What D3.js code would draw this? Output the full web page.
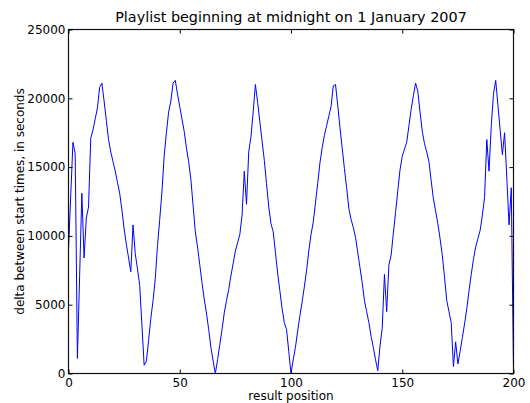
<!DOCTYPE html>
<html>
<head>
<meta charset="utf-8">
<script src="https://cdn.jsdelivr.net/npm/d3@7"></script>
<style>
  html, body { margin: 0; padding: 0; background: #fff; }
  svg { display: block; font-family: "DejaVu Sans", sans-serif; }
</style>
</head>
<body>
<svg id="chart" width="530" height="403"></svg>
<script>
// Gap in seconds between consecutive start times, by result position
const positions = d3.range(0, 201);
const deltas = [
  9000, 12900, 16800, 16000, 1100, 7100, 13100, 8400, 11300, 12100,
  17100, 17700, 18500, 19300, 20800, 21100, 19800, 18400, 17000, 16100,
  15400, 14700, 13900, 13100, 11900, 10500, 9400, 8400, 7400, 10800,
  8700, 7600, 6400, 3500, 600, 900, 2400, 4000, 5300, 6900,
  9300, 11200, 13200, 15800, 17500, 19000, 19800, 21100, 21300, 20300,
  19400, 18500, 17600, 16400, 15400, 14100, 12200, 10300, 9200, 7900,
  6600, 5400, 4400, 3200, 1900, 900, 0, 1000, 2100, 3200,
  4400, 5300, 6100, 7100, 8000, 8900, 9500, 10100, 11500, 14700,
  12300, 16100, 17200, 19000, 21000, 19700, 18300, 16900, 15500, 13800,
  12100, 10900, 10300, 8800, 7300, 6000, 4700, 3700, 3200, 1600,
  0, 1000, 1900, 3100, 4200, 5200, 6300, 7500, 8900, 10100,
  11000, 12400, 13800, 15300, 16400, 17300, 18000, 18700, 19400, 20900,
  21000, 19500, 17900, 16400, 14900, 13500, 12000, 11200, 10600, 9900,
  8800, 7700, 6600, 5300, 4500, 3700, 2700, 1900, 1000, 200,
  2000, 3300, 7200, 4500, 7900, 8600, 10200, 11700, 13300, 14800,
  15800, 16300, 16800, 18000, 19200, 20200, 21100, 20500, 19000, 17600,
  16700, 16100, 15400, 14000, 12700, 11800, 10900, 9800, 8600, 7000,
  5300, 4500, 3700, 500, 2300, 700, 1600, 2600, 3600, 4700,
  6000, 7200, 8300, 9200, 9800, 10400, 11500, 12800, 17000, 14700,
  18000, 20300, 21300, 19500, 17700, 15900, 17500, 14200, 10800, 13500,
  300
];
const xTicks = [0, 50, 100, 150, 200];
const yTicks = [0, 5000, 10000, 15000, 20000, 25000];

const titleText = "Playlist beginning at midnight on 1 January 2007";
const xLabel = "result position";
const yLabel = "delta between start times, in seconds";

const svg = d3.select("#chart");
const plotLeft = 68.5, plotRight = 513.5, plotTop = 29.5, plotBottom = 373.5;

const x = d3.scaleLinear().domain([0, 200]).range([plotLeft, plotRight]);
const y = d3.scaleLinear().domain([0, 25000]).range([plotBottom, plotTop]);

// data line
const line = d3.line()
  .x((d, i) => x(positions[i]))
  .y(d => y(d));

svg.append("path")
  .datum(deltas)
  .attr("fill", "none")
  .attr("stroke", "#0000ff")
  .attr("stroke-width", 1)
  .attr("stroke-linejoin", "round")
  .attr("d", line);

// frame
svg.append("rect")
  .attr("x", plotLeft).attr("y", plotTop)
  .attr("width", plotRight - plotLeft).attr("height", plotBottom - plotTop)
  .attr("fill", "none").attr("stroke", "#111").attr("stroke-width", 1.2);

const tickLen = 4;
const fontSize = 12;

function styleAxis(g) {
  g.select(".domain").remove();
  g.selectAll(".tick line").attr("stroke", "#000");
  g.selectAll(".tick text").attr("fill", "#000")
    .attr("font-size", fontSize).attr("font-family", "DejaVu Sans, sans-serif");
}

// bottom axis with labels, inward ticks
svg.append("g")
  .attr("transform", `translate(0,${plotBottom})`)
  .call(d3.axisBottom(x).tickValues(xTicks).tickSizeInner(-tickLen).tickSizeOuter(0).tickPadding(5))
  .call(styleAxis);

// top axis, ticks only
svg.append("g")
  .attr("transform", `translate(0,${plotTop})`)
  .call(d3.axisTop(x).tickValues(xTicks).tickSizeInner(-tickLen).tickSizeOuter(0).tickFormat(""))
  .call(styleAxis);

// left axis with labels
svg.append("g")
  .attr("transform", `translate(${plotLeft},0)`)
  .call(d3.axisLeft(y).tickValues(yTicks).tickSizeInner(-tickLen).tickSizeOuter(0).tickPadding(3).tickFormat(d3.format("d")))
  .call(styleAxis);

// right axis, ticks only
svg.append("g")
  .attr("transform", `translate(${plotRight},0)`)
  .call(d3.axisRight(y).tickValues(yTicks).tickSizeInner(-tickLen).tickSizeOuter(0).tickFormat(""))
  .call(styleAxis);

// title and axis labels
svg.append("text")
  .attr("x", (plotLeft + plotRight) / 2).attr("y", 21.5)
  .attr("text-anchor", "middle").attr("font-size", 14.4).attr("fill", "#000")
  .text(titleText);

svg.append("text")
  .attr("x", (plotLeft + plotRight) / 2).attr("y", 400)
  .attr("text-anchor", "middle").attr("font-size", fontSize).attr("fill", "#000")
  .text(xLabel);

svg.append("text")
  .attr("transform", `translate(23.5,${(plotTop + plotBottom) / 2}) rotate(-90)`)
  .attr("text-anchor", "middle").attr("font-size", fontSize).attr("fill", "#000")
  .text(yLabel);
</script>
</body>
</html>
